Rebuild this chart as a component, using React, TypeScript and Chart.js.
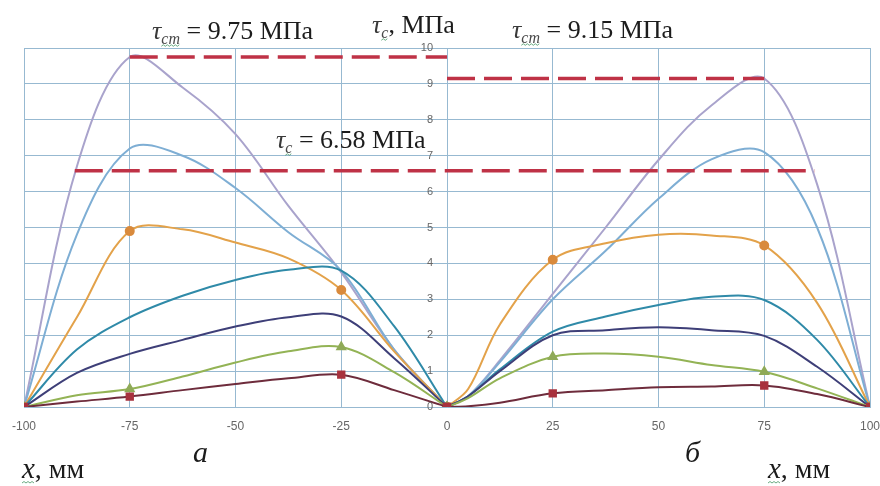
import React, { useEffect, useRef } from 'react';
import { Chart, registerables } from 'chart.js';

Chart.register(...registerables);

// x positions where values were read (left part "а", right part "б")
const LEFT_X = [-100, -87.5, -75, -62.5, -50, -37.5, -25, -12.5, 0];
const RIGHT_X = [0, 5, 12.5, 25, 37.5, 50, 62.5, 75, 87.5, 100];
// x positions carrying markers
const MARKER_X = [-100, -75, -25, 0, 25, 75, 100];

// left part (а)
const LAV_L = [0, 6.7, 9.75, 8.9, 7.6, 5.6, 3.75, 1.6, 0];
const BLUE_L = [0, 4.8, 7.2, 7.0, 6.1, 4.87, 3.8, 1.6, 0];
const ORANGE_L = [0, 2.5, 4.9, 4.95, 4.58, 4.14, 3.26, 1.55, 0];
const TEAL_L = [0, 1.6, 2.5, 3.1, 3.54, 3.82, 3.8, 2.25, 0];
const NAVY_L = [0, 0.95, 1.48, 1.87, 2.24, 2.5, 2.52, 1.36, 0];
const GREEN_L = [0, 0.33, 0.5, 0.85, 1.24, 1.55, 1.67, 0.97, 0];
const MAROON_L = [0, 0.15, 0.29, 0.47, 0.64, 0.8, 0.9, 0.47, 0];

// right part (б)
const LAV_R = [0, 0.3, 1.3, 3.15, 5.0, 6.88, 8.4, 9.15, 6.2, 0];
const BLUE_R = [0, 0.3, 1.25, 3.0, 4.35, 5.8, 6.9, 7.1, 5.0, 0];
const ORANGE_R = [0, 0.5, 2.3, 4.1, 4.56, 4.8, 4.78, 4.5, 2.9, 0];
const TEAL_R = [0, 0.3, 1.05, 2.1, 2.52, 2.84, 3.07, 2.98, 1.87, 0];
const NAVY_R = [0, 0.3, 1.0, 2.0, 2.14, 2.22, 2.14, 1.98, 1.12, 0];
const GREEN_R = [0, 0.25, 0.8, 1.4, 1.49, 1.4, 1.17, 0.98, 0.52, 0];
const MAROON_R = [0, 0.02, 0.12, 0.38, 0.47, 0.55, 0.57, 0.6, 0.36, 0];

// dashed limit lines
const LIMIT_Y = [9.75, 9.15, 6.58];
const LIMIT_X0 = [-75, 0, -88];
const LIMIT_X1 = [0, 75, 87];

// axis ranges / ticks
const X_MIN = -100;
const X_MAX = 100;
const X_STEP = 25;
const Y_MIN = 0;
const Y_MAX = 10;
const Y_STEP = 1;

// texts
const T_LEFT = { sub: 'ст', rest: ' = 9.75 МПа' };
const T_AXIS = { sub: 'с', rest: ', МПа' };
const T_RIGHT = { sub: 'ст', rest: ' = 9.15 МПа' };
const T_MID = { sub: 'с', rest: ' = 6.58 МПа' };
const PART_A = 'а';
const PART_B = 'б';
const X_TITLE_VAR = 'x';
const X_TITLE_UNIT = ', мм';

const SERIF = '"Liberation Serif", "Times New Roman", serif';

function pts(xs: number[], ys: number[]) {
  return xs.map((x, i) => ({ x, y: ys[i] }));
}

function squiggle(ctx: CanvasRenderingContext2D, x0: number, x1: number, y: number) {
  ctx.save();
  ctx.strokeStyle = 'rgba(70,150,100,0.8)';
  ctx.lineWidth = 1;
  ctx.beginPath();
  let up = true;
  ctx.moveTo(x0, y);
  for (let x = x0 + 2; x <= x1; x += 2) {
    ctx.lineTo(x, up ? y - 1.5 : y);
    up = !up;
  }
  ctx.stroke();
  ctx.restore();
}

function drawTau(ctx: CanvasRenderingContext2D, x: number, y: number, sub: string, rest: string, size: number) {
  ctx.fillStyle = '#3a3a3a';
  ctx.font = `italic ${size}px ${SERIF}`;
  ctx.fillText('τ', x, y);
  let cx = x + ctx.measureText('τ').width;
  const subSize = Math.round(size * 0.62);
  ctx.font = `italic ${subSize}px ${SERIF}`;
  ctx.fillStyle = '#4a4a4a';
  ctx.fillText(sub, cx, y + size * 0.2);
  const sw = ctx.measureText(sub).width;
  squiggle(ctx, cx, cx + sw, y + size * 0.28);
  cx += sw;
  ctx.fillStyle = '#1c1c1c';
  ctx.font = `${size}px ${SERIF}`;
  ctx.fillText(rest, cx, y);
}

const annotations = {
  id: 'annotations',
  afterDraw(chart: any) {
    const { ctx, scales } = chart;
    const xs = scales.x;
    const ys = scales.y;
    ctx.save();
    // y tick labels next to the x = 0 line
    ctx.font = '11px "Liberation Sans", Arial, sans-serif';
    ctx.fillStyle = '#666';
    ctx.textAlign = 'right';
    ctx.textBaseline = 'middle';
    const lx = xs.getPixelForValue(0) - 14;
    ys.ticks.forEach((t: any) => {
      ctx.fillText(String(t.value), lx, ys.getPixelForValue(t.value));
    });

    ctx.textAlign = 'left';
    ctx.textBaseline = 'alphabetic';
    drawTau(ctx, 152, 39, T_LEFT.sub, T_LEFT.rest, 26);
    drawTau(ctx, 372, 33, T_AXIS.sub, T_AXIS.rest, 26);
    drawTau(ctx, 512, 38, T_RIGHT.sub, T_RIGHT.rest, 26);
    drawTau(ctx, 276, 148, T_MID.sub, T_MID.rest, 26);

    ctx.fillStyle = '#1c1c1c';
    ctx.font = `italic 30px ${SERIF}`;
    ctx.fillText(PART_A, 193, 462);
    ctx.fillText(PART_B, 685, 462);

    const drawXTitle = (x: number, y: number) => {
      ctx.fillStyle = '#1c1c1c';
      ctx.font = `italic 29px ${SERIF}`;
      ctx.fillText(X_TITLE_VAR, x, y);
      const w = ctx.measureText(X_TITLE_VAR).width;
      squiggle(ctx, x, x + w, y + 5);
      ctx.font = `28px ${SERIF}`;
      ctx.fillText(X_TITLE_UNIT, x + w, y);
    };
    drawXTitle(22, 478);
    drawXTitle(768, 478);
    ctx.restore();
  },
};

export default function App() {
  const ref = useRef<HTMLCanvasElement | null>(null);

  useEffect(() => {
    document.body.style.margin = '0';
    if (!ref.current) return;

    const markerRadius = (r: number) => (c: any) =>
      c.raw && MARKER_X.includes(c.raw.x) ? r : 0;

    const curve = (data: any[], color: string, extra: any = {}) => ({
      type: 'line',
      data,
      borderColor: color,
      backgroundColor: color,
      borderWidth: 2,
      pointRadius: 0,
      tension: 0.35,
      fill: false,
      ...extra,
    });

    const limits = LIMIT_Y.map((v, i) => ({
      type: 'line',
      data: [
        { x: LIMIT_X0[i], y: v },
        { x: LIMIT_X1[i], y: v },
      ],
      borderColor: '#bf3246',
      borderWidth: 3.5,
      borderDash: [28, 9],
      pointRadius: 0,
      tension: 0,
      fill: false,
    }));

    const maroonM = { pointStyle: 'rect', pointRadius: markerRadius(4.5), backgroundColor: '#a8323e', pointBorderColor: '#a8323e' };
    const greenM = { pointStyle: 'triangle', pointRadius: markerRadius(4.5), backgroundColor: '#8faa58', pointBorderColor: '#8faa58' };
    const orangeM = { pointStyle: 'circle', pointRadius: markerRadius(4), backgroundColor: '#d98a3c', pointBorderColor: '#d98a3c' };

    const datasets: any[] = [
      ...limits,
      curve(pts(LEFT_X, MAROON_L), '#6e2c3c', maroonM),
      curve(pts(RIGHT_X, MAROON_R), '#6e2c3c', maroonM),
      curve(pts(LEFT_X, GREEN_L), '#93b355', greenM),
      curve(pts(RIGHT_X, GREEN_R), '#93b355', greenM),
      curve(pts(LEFT_X, NAVY_L), '#3e3f78'),
      curve(pts(RIGHT_X, NAVY_R), '#3e3f78'),
      curve(pts(LEFT_X, TEAL_L), '#2f8aa8'),
      curve(pts(RIGHT_X, TEAL_R), '#2f8aa8'),
      curve(pts(LEFT_X, ORANGE_L), '#e3a24a', orangeM),
      curve(pts(RIGHT_X, ORANGE_R), '#e3a24a', orangeM),
      curve(pts(LEFT_X, BLUE_L), '#7eaed4'),
      curve(pts(RIGHT_X, BLUE_R), '#7eaed4'),
      curve(pts(LEFT_X, LAV_L), '#a9a3cc'),
      curve(pts(RIGHT_X, LAV_R), '#a9a3cc'),
    ];

    const chart = new Chart(ref.current, {
      type: 'line',
      data: { datasets },
      options: {
        animation: false,
        responsive: true,
        maintainAspectRatio: false,
        layout: { padding: { left: 24, right: 10, top: 48, bottom: 0 } },
        plugins: {
          legend: { display: false },
          tooltip: { enabled: false },
        },
        scales: {
          x: {
            type: 'linear',
            min: X_MIN,
            max: X_MAX,
            ticks: {
              stepSize: X_STEP,
              color: '#666',
              font: { family: '"Liberation Sans", Arial, sans-serif', size: 12 },
              padding: 12,
            },
            grid: { color: '#97b9d1', lineWidth: 1, drawTicks: false },
            border: { color: '#97b9d1' },
            afterFit: (s: any) => {
              s.height = 79;
              s.paddingRight = 0;
              s.paddingLeft = 0;
            },
          },
          y: {
            type: 'linear',
            min: Y_MIN,
            max: Y_MAX,
            ticks: { stepSize: Y_STEP, display: false },
            grid: { color: '#97b9d1', lineWidth: 1, drawTicks: false },
            border: { color: '#97b9d1' },
            afterFit: (s: any) => {
              s.width = 0;
              s.paddingTop = 0;
              s.paddingBottom = 0;
            },
          },
        },
      } as any,
      plugins: [annotations],
    } as any);

    return () => chart.destroy();
  }, []);

  return (
    <div style={{ width: 880, height: 486, position: 'relative', background: '#fff' }}>
      <canvas ref={ref} />
    </div>
  );
}
